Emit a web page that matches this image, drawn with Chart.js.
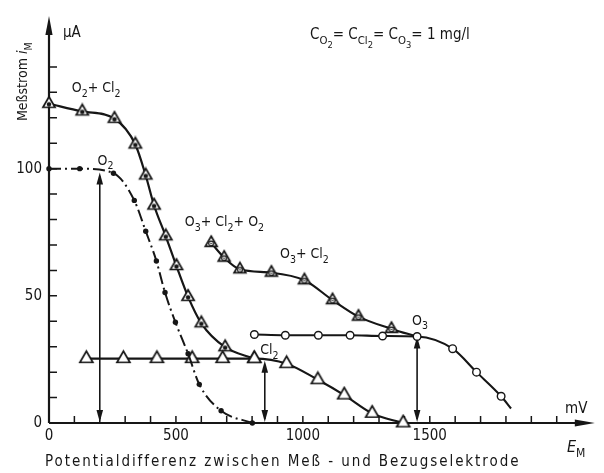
<!DOCTYPE html>
<html>
<head>
<meta charset="utf-8">
<script src="https://cdn.jsdelivr.net/npm/chart.js@4.4.0/dist/chart.umd.min.js"></script>
<style>
  html, body { margin: 0; padding: 0; background: #fff; }
  #wrap { width: 604px; height: 473px; }
</style>
</head>
<body>
<div id="wrap"><canvas id="chart" width="604" height="473"></canvas></div>
<script>
const o2Cl2E = [0, 131, 258, 340, 381, 414, 460, 502, 548, 600, 694, 808];
const o2Cl2I = [125.5, 122.5, 119.6, 109.5, 97.3, 85.5, 73.4, 61.7, 49.6, 39.2, 29.8, 25.3];

const o2E = [0, 121, 254, 336, 381, 423, 457, 498, 548, 592, 678, 801];
const o2I = [100, 100, 98.2, 87.5, 75.4, 63.7, 51.3, 39.6, 27.2, 15.2, 4.8, 0];

const cl2E = [147, 293, 425, 564, 684, 809, 936, 1059, 1163, 1273, 1395];
const cl2I = [25.3, 25.3, 25.3, 25.3, 25.3, 25.3, 23.3, 17, 11, 3.8, 0];

// letzter Punkt ohne Marker (Kurve laeuft in O3 ein)
const o3Cl2E = [639, 690, 752, 876, 1006, 1117, 1219, 1349, 1450];
const o3Cl2I = [70.8, 65, 60.4, 59.1, 56.1, 48.3, 41.8, 37, 34];

// letzter Punkt = Kurvenende ohne Marker
const o3E = [809, 931, 1061, 1186, 1314, 1450, 1590, 1684, 1781, 1820];
const o3I = [34.8, 34.5, 34.5, 34.5, 34.2, 34, 29.2, 20, 10.5, 5.7];

// Pfeile: Lage (mV) und obere Spitze (µA)
const arrowE = [200, 850, 1450];
const arrowTop = [98.5, 24.5, 34];

const xLabels = [0, 500, 1000, 1500];
const yLabels = [0, 50, 100];
const xTickMax = 2000;
const yTickMax = 140;

const FONT = '"DejaVu Sans Condensed", "DejaVu Sans", sans-serif';
const INK = '#161616';

function toXY(xs, ys) {
    return xs.map((v, i) => ({ x: v, y: ys[i] }));
}

// Dreiecks-Marker mit Innensymbol
function makeMarker(r, inner) {
    const size = Math.ceil(r * 2 + 4);
    const c = document.createElement('canvas');
    c.width = size; c.height = size;
    const g = c.getContext('2d');
    const cx = size / 2, cy = size / 2;
    g.beginPath();
    for (let k = 0; k < 3; k++) {
        const a = -Math.PI / 2 + k * 2 * Math.PI / 3;
        g.lineTo(cx + r * Math.cos(a), cy + r * Math.sin(a));
    }
    g.closePath();
    g.fillStyle = '#fff';
    g.fill();
    g.lineWidth = 1.7;
    g.strokeStyle = INK;
    g.stroke();
    if (inner === 'dot') {
        g.beginPath();
        g.arc(cx, cy + 0.5, 2.2, 0, Math.PI * 2);
        g.fillStyle = INK;
        g.fill();
    } else if (inner === 'ring') {
        g.beginPath();
        g.arc(cx, cy + 0.5, 2.4, 0, Math.PI * 2);
        g.lineWidth = 1.2;
        g.stroke();
        g.beginPath();
        g.arc(cx, cy + 0.5, 0.8, 0, Math.PI * 2);
        g.fillStyle = INK;
        g.fill();
    }
    return c;
}

function arrowHead(ctx, tx, ty, dir, len, half) {
    ctx.beginPath();
    ctx.moveTo(tx, ty);
    if (dir === 'up') { ctx.lineTo(tx - half, ty + len); ctx.lineTo(tx + half, ty + len); }
    if (dir === 'down') { ctx.lineTo(tx - half, ty - len); ctx.lineTo(tx + half, ty - len); }
    if (dir === 'right') { ctx.lineTo(tx - len, ty - half); ctx.lineTo(tx - len, ty + half); }
    ctx.closePath();
    ctx.fill();
}

// Text mit Indizes: [text, stufe, kursiv]
function richText(ctx, x, y, parts, size) {
    let cx = x;
    parts.forEach(([t, lvl, italic]) => {
        const s = lvl === 0 ? size : lvl === 1 ? size * 0.75 : size * 0.62;
        const dy = lvl === 0 ? 0 : lvl === 1 ? size * 0.33 : size * 0.62;
        ctx.font = (italic ? 'italic ' : '') + s.toFixed(1) + 'px ' + FONT;
        ctx.fillText(t, cx, y + dy);
        cx += ctx.measureText(t).width;
    });
    return cx;
}

const curveLabels = [
    { e: 90, i: 130, parts: [['O', 0], ['2', 1], ['+ Cl', 0], ['2', 1]] },
    { e: 191, i: 101.6, parts: [['O', 0], ['2', 1]] },
    { e: 535, i: 77.3, parts: [['O', 0], ['3', 1], ['+ Cl', 0], ['2', 1], ['+ O', 0], ['2', 1]] },
    { e: 910, i: 64.8, parts: [['O', 0], ['3', 1], ['+ Cl', 0], ['2', 1]] },
    { e: 832, i: 27, parts: [['Cl', 0], ['2', 1]] },
    { e: 1430, i: 38.7, parts: [['O', 0], ['3', 1]] }
];

const decorations = {
    id: 'decorations',
    beforeDatasetsDraw(chart) {
        const { ctx, scales: { x, y } } = chart;
        const x0 = x.getPixelForValue(0), y0 = y.getPixelForValue(0);
        const xEnd = x.getPixelForValue(x.max), yEnd = y.getPixelForValue(y.max);
        ctx.save();
        ctx.strokeStyle = INK;
        ctx.fillStyle = INK;

        // Achsen mit Pfeilen
        ctx.lineWidth = 2.2;
        ctx.beginPath();
        ctx.moveTo(x0, y0); ctx.lineTo(xEnd - 12, y0);
        ctx.moveTo(x0, y0); ctx.lineTo(x0, yEnd + 12);
        ctx.stroke();
        arrowHead(ctx, xEnd, y0, 'right', 20, 3.6);
        arrowHead(ctx, x0, yEnd, 'up', 19, 3.6);

        // Teilstriche nach innen
        ctx.lineWidth = 1.5;
        ctx.beginPath();
        x.ticks.forEach(t => {
            if (t.value > 0 && t.value <= xTickMax) {
                const px = x.getPixelForValue(t.value);
                ctx.moveTo(px, y0); ctx.lineTo(px, y0 - 7);
            }
        });
        y.ticks.forEach(t => {
            if (t.value > 0 && t.value <= yTickMax) {
                const py = y.getPixelForValue(t.value);
                ctx.moveTo(x0, py); ctx.lineTo(x0 + 8, py);
            }
        });
        ctx.stroke();

        // Doppelpfeile
        ctx.lineWidth = 1.6;
        arrowE.forEach((e, k) => {
            const px = x.getPixelForValue(e);
            const top = y.getPixelForValue(arrowTop[k]);
            ctx.beginPath();
            ctx.moveTo(px, y0 - 4); ctx.lineTo(px, top + 4);
            ctx.stroke();
            arrowHead(ctx, px, top, 'up', 12, 3.3);
            arrowHead(ctx, px, y0 - 1, 'down', 12, 3.3);
        });
        ctx.restore();
    },
    afterDraw(chart) {
        const { ctx, scales: { x, y } } = chart;
        ctx.save();
        ctx.fillStyle = INK;
        ctx.textBaseline = 'alphabetic';
        ctx.textAlign = 'left';

        curveLabels.forEach(l => {
            richText(ctx, x.getPixelForValue(l.e), y.getPixelForValue(l.i), l.parts, 14);
        });

        // Konzentrationsangabe
        richText(ctx, 310, 39, [['C', 0], ['O', 1], ['2', 2], ['= ', 0], ['C', 0], ['Cl', 1], ['2', 2],
            ['= ', 0], ['C', 0], ['O', 1], ['3', 2], ['= 1 mg/l', 0]], 15);

        // Einheiten
        richText(ctx, 63, 37, [['µA', 0]], 15);
        richText(ctx, 565, 413, [['mV', 0]], 15);
        richText(ctx, 567, 452, [['E', 0, true], ['M', 1]], 16);

        // x-Achsentitel
        const xTitle = 'Potentialdifferenz zwischen Meß - und Bezugselektrode';
        ctx.font = '15px ' + FONT;
        const w = ctx.measureText(xTitle).width;
        ctx.letterSpacing = ((475 - w) / xTitle.length).toFixed(2) + 'px';
        ctx.fillText(xTitle, 45, 466);
        ctx.letterSpacing = '0px';

        // y-Achsentitel, gedreht
        ctx.translate(27, 121);
        ctx.rotate(-Math.PI / 2);
        richText(ctx, 0, 0, [['Meßstrom ', 0], ['i', 0, true], ['M', 1]], 14);
        ctx.restore();
    }
};

const ctx = document.getElementById('chart').getContext('2d');
new Chart(ctx, {
    type: 'line',
    data: {
        datasets: [
            {
                data: toXY(o2E, o2I),
                borderColor: INK,
                borderWidth: 2,
                borderDash: [12, 4, 2, 4],
                pointStyle: 'circle',
                pointRadius: 2.7,
                pointBackgroundColor: INK,
                pointBorderWidth: 0,
                cubicInterpolationMode: 'monotone',
                clip: false
            },
            {
                data: toXY(cl2E, cl2I),
                borderColor: INK,
                borderWidth: 2.1,
                pointStyle: makeMarker(7.5, null),
                pointRadius: 7,
                cubicInterpolationMode: 'monotone',
                clip: false
            },
            {
                data: toXY(o2Cl2E, o2Cl2I),
                borderColor: INK,
                borderWidth: 2.2,
                pointStyle: makeMarker(7, 'dot'),
                pointRadius: 7,
                cubicInterpolationMode: 'monotone',
                clip: false
            },
            {
                data: toXY(o3E, o3I),
                borderColor: INK,
                borderWidth: 2.1,
                pointStyle: 'circle',
                pointRadius: c => c.dataIndex === o3E.length - 1 ? 0 : 3.8,
                pointBackgroundColor: '#fff',
                pointBorderColor: INK,
                pointBorderWidth: 1.4,
                cubicInterpolationMode: 'monotone',
                clip: false
            },
            {
                data: toXY(o3Cl2E, o3Cl2I),
                borderColor: INK,
                borderWidth: 2.1,
                pointStyle: makeMarker(6.8, 'ring'),
                pointRadius: c => c.dataIndex === o3Cl2E.length - 1 ? 0 : 7,
                cubicInterpolationMode: 'monotone',
                clip: false
            }
        ]
    },
    options: {
        responsive: false,
        animation: false,
        layout: { padding: { left: 0, right: 4.6, top: 13.4, bottom: 0 } },
        plugins: {
            legend: { display: false },
            tooltip: { enabled: false }
        },
        scales: {
            x: {
                type: 'linear',
                min: 0,
                max: 2150,
                grid: { display: false, drawTicks: false },
                border: { display: false },
                ticks: {
                    stepSize: 100,
                    autoSkip: false,
                    maxRotation: 0,
                    padding: 4,
                    color: INK,
                    font: { family: FONT, size: 15 },
                    callback: v => xLabels.includes(v) ? String(v) : ''
                },
                afterFit: s => { s.height = 50; }
            },
            y: {
                type: 'linear',
                min: 0,
                max: 160,
                grid: { display: false, drawTicks: false },
                border: { display: false },
                ticks: {
                    stepSize: 10,
                    autoSkip: false,
                    padding: 7,
                    color: INK,
                    font: { family: FONT, size: 15 },
                    callback: v => yLabels.includes(v) ? String(v) : ''
                },
                afterFit: s => { s.width = 49; }
            }
        }
    },
    plugins: [decorations]
});
</script>
</body>
</html>
